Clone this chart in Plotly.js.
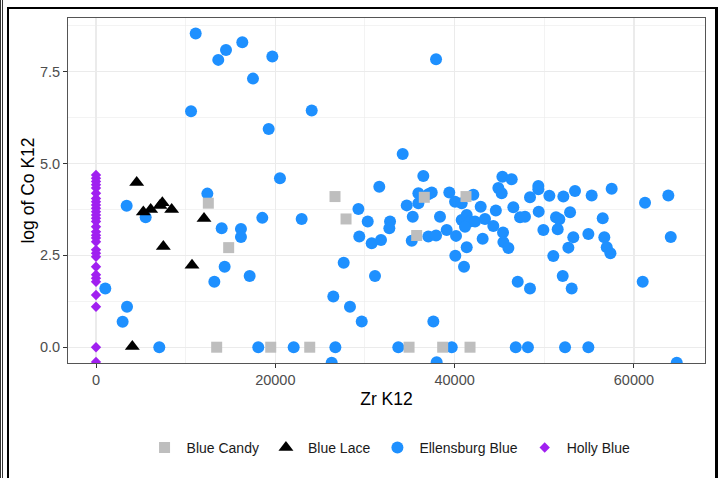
<!DOCTYPE html>
<html>
<head>
<meta charset="utf-8">
<script src="https://cdn.plot.ly/plotly-3.0.1.min.js"></script>
<style>
  html, body { margin: 0; padding: 0; background: #fff; }
  #wrap { position: relative; width: 721px; height: 478px; overflow: hidden; }
  #chart { position: absolute; left: 0; top: 0; width: 721px; height: 478px; }
  .ln { position: absolute; background: #000; pointer-events: none; }
</style>
</head>
<body>
<div id="wrap">
  <div id="chart"></div>
  <div class="ln" style="left:0;top:0;width:1px;height:478px;background:#333;"></div>
  <div class="ln" style="left:2px;top:0;width:1px;height:478px;background:#333;"></div>
  <div class="ln" style="left:7px;top:7px;width:2px;height:471px;"></div>
  <div class="ln" style="left:7px;top:7px;width:711px;height:2px;"></div>
  <div class="ln" style="left:715px;top:7px;width:3px;height:471px;"></div>
</div>
<script>
// ---- data ----
const seriesNames = ["Blue Candy", "Blue Lace", "Ellensburg Blue", "Holly Blue"];

const candyX = [12530, 26660, 27890, 14800, 13460, 19490, 23840, 36620, 41270, 35770, 34920, 38670, 41720];
const candyY = [3.92, 4.10, 3.49, 2.71, 0, 0, 0, 4.08, 4.10, 3.04, 0, 0, 0];

const laceX = [4540, 5280, 6100, 7140, 7400, 8440, 12050, 7510, 10710, 4050];
const laceY = [4.48, 3.68, 3.75, 3.86, 3.93, 3.75, 3.50, 2.74, 2.23, 0.02];

const ellX = [11120, 13640, 14500, 16320, 19670, 17510, 10600, 24060, 19260, 20520,
  12420, 3420, 5540, 14020, 16170, 16170, 18550, 22940, 29270, 13200,
  14350, 17140, 1040, 3460, 2970, 27630, 26470, 28330, 29640, 7060,
  18100, 22050, 26700, 26290, 34210, 36510, 31600, 30310, 32800, 32720,
  29370, 30750, 31790, 34660, 35330, 35220, 35960, 35960, 37450, 37070,
  38370, 37070, 37930, 39410, 40050, 40790, 42090, 42910, 40790, 41350,
  41720, 41160, 42280, 43390, 44600, 44320, 43130, 41350, 40080, 39120,
  40160, 45330, 46370, 44880, 45250, 45400, 45440, 46000, 31120, 37630,
  41050, 47040, 48410, 51010, 52690, 52060, 53060, 33720, 39680, 46820,
  48180, 52320, 54920, 38000, 64780, 60980, 64110, 37930, 49340, 49340,
  48410, 50570, 52130, 53430, 55290, 57520, 61240, 63840, 46550, 47300,
  47850, 49380, 51310, 51680, 52880, 56520, 49900, 51500, 53240, 54920,
  56700, 56970, 57380];
const ellY = [8.54, 7.82, 8.09, 8.30, 7.91, 7.31, 6.42, 6.44, 5.94, 4.60,
  4.18, 3.85, 3.54, 3.24, 3.22, 3.00, 3.52, 3.49, 3.76, 1.78,
  2.19, 1.94, 1.60, 1.10, 0.69, 2.30, 1.38, 1.10, 0.70, 0,
  0, 0, 0, -0.42, 5.26, 4.66, 4.37, 3.42, 3.42, 3.24,
  3.01, 2.83, 2.92, 3.86, 3.55, 2.90, 4.19, 3.92, 4.21, 4.16,
  3.55, 3.01, 3.04, 4.21, 3.96, 3.92, 4.15, 3.82, 3.46, 3.60,
  3.42, 3.28, 3.42, 3.49, 3.72, 3.30, 2.95, 2.72, 2.49, 3.19,
  3.03, 4.64, 4.57, 4.33, 4.19, 3.12, 2.86, 2.70, 1.94, 0.70,
  2.19, 1.78, 1.60, 2.48, 2.71, 1.94, 1.60, 0, 0, 0,
  0, 0, 0, -0.41, -0.42, 1.78, 3.00, 7.84, 4.39, 4.30,
  4.08, 4.12, 4.10, 4.25, 4.13, 4.31, 3.93, 4.13, 3.81, 3.54,
  3.55, 3.69, 3.54, 3.48, 3.67, 3.51, 3.19, 3.21, 2.99, 3.08,
  2.99, 2.72, 2.56];

const hollyY = [4.69, 4.60, 4.51, 4.42, 4.33, 4.19, 4.05, 3.96, 3.87, 3.78,
  3.69, 3.60, 3.51, 3.42, 3.28, 3.14, 3.05, 2.97, 2.87, 2.65,
  2.56, 2.46, 2.19, 1.97, 1.88, 1.78, 1.42, 1.10, 0, -0.40];
const hollyX = hollyY.map(() => 0);

const xTicks = [0, 20000, 40000, 60000];
const xTickText = ["0", "20000", "40000", "60000"];
const yTicks = [0, 2.5, 5, 7.5];
const yTickText = ["0.0", "2.5", "5.0", "7.5"];

// ---- traces ----
const FONT = "Liberation Sans, Arial, sans-serif";
const traces = [
  { name: seriesNames[2], x: ellX, y: ellY, type: "scatter", mode: "markers", legendrank: 3,
    marker: { symbol: "circle", size: 12, color: "#1E90FF" } },
  { name: seriesNames[0], x: candyX, y: candyY, type: "scatter", mode: "markers", legendrank: 1,
    marker: { symbol: "square", size: 11, color: "#BEBEBE" } },
  { name: seriesNames[1], x: laceX, y: laceY, type: "scatter", mode: "markers", legendrank: 2,
    marker: { symbol: "triangle-up", size: 13, color: "#000000" } },
  { name: seriesNames[3], x: hollyX, y: hollyY, type: "scatter", mode: "markers", legendrank: 4,
    marker: { symbol: "diamond", size: 8, color: "#A020F0" } }
];

const gridC = "#EBEBEB";
const layout = {
  width: 721, height: 478,
  margin: { l: 68, r: 16, t: 18, b: 115 },
  paper_bgcolor: "rgba(0,0,0,0)",
  plot_bgcolor: "#FFFFFF",
  font: { family: FONT, color: "#000" },
  showlegend: true,
  legend: {
    orientation: "h", x: 0.504, xanchor: "center", y: -0.246, yanchor: "middle",
    font: { family: FONT, size: 14, color: "#1A1A1A" },
    traceorder: "normal", itemwidth: 34
  },
  xaxis: {
    range: [-3123, 67930], autorange: false,
    tickvals: xTicks, ticktext: xTickText,
    showgrid: true, gridcolor: gridC, gridwidth: 1.2,
    minor: { dtick: 10000, tick0: 0, showgrid: true, gridcolor: gridC, gridwidth: 0.6 },
    zeroline: false,
    showline: true, mirror: true, linecolor: "#555", linewidth: 1,
    ticks: "outside", ticklen: 4, tickcolor: "#333", tickwidth: 1,
    tickfont: { family: FONT, size: 14.5, color: "#4D4D4D" },
    title: { text: "Zr K12", font: { family: FONT, size: 17.5, color: "#000" }, standoff: 5 }
  },
  yaxis: {
    range: [-0.43, 8.96], autorange: false,
    tickvals: yTicks, ticktext: yTickText,
    showgrid: true, gridcolor: gridC, gridwidth: 1.2,
    minor: { tickvals: [1.25, 3.75, 6.25, 8.75], showgrid: true, gridcolor: gridC, gridwidth: 0.6 },
    zeroline: false,
    showline: true, mirror: true, linecolor: "#555", linewidth: 1,
    ticks: "outside", ticklen: 4, tickcolor: "#333", tickwidth: 1,
    tickfont: { family: FONT, size: 14.5, color: "#4D4D4D" },
    title: { text: "log of Co K12", font: { family: FONT, size: 17.5, color: "#000" }, standoff: 0 }
  }
};

Plotly.newPlot("chart", traces, layout, { staticPlot: true, displayModeBar: false });
</script>
</body>
</html>
